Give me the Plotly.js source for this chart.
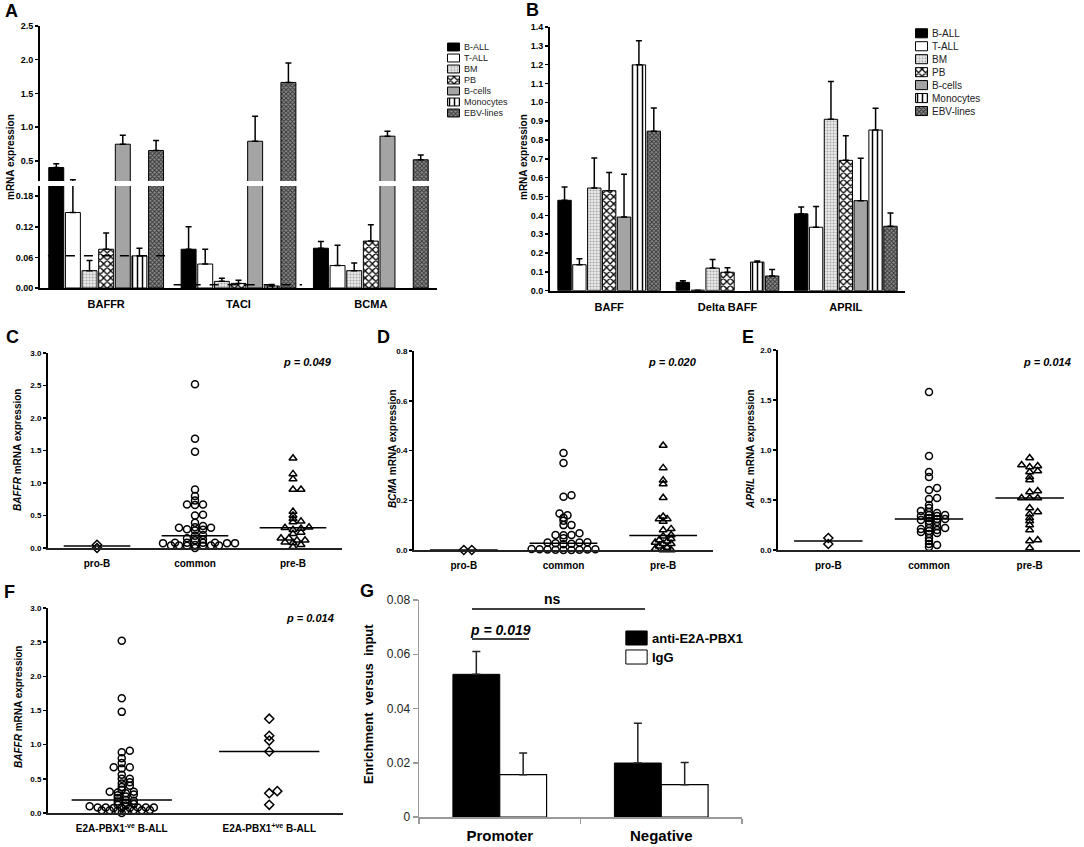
<!DOCTYPE html>
<html>
<head>
<meta charset="utf-8">
<script src="https://cdn.plot.ly/plotly-3.0.1.min.js"></script>
<style>
  body { margin: 0; background: #fff; }
  #fig { width: 1084px; height: 847px; }
</style>
</head>
<body>
<div id="fig"></div>
<script>
const W = 1084, H = 847;
const FONT = "Liberation Sans, Arial, sans-serif";

// ---- panel A / B: cell types (rows of the mean / error tables) ----
const cellTypes = ["B-ALL", "T-ALL", "BM", "PB", "B-cells", "Monocytes", "EBV-lines"];

// panel A: receptor mRNA
const receptors = ["BAFFR", "TACI", "BCMA"];
const meanA = [
  [0.40, 0.076, 0.078],
  [0.148, 0.047, 0.044],
  [0.034, 0.013, 0.034],
  [0.076, 0.009, 0.092],
  [0.746, 0.79, 0.865],
  [0.063, 0.004, null],
  [0.653, 1.663, 0.515],
];
const errA = [
  [0.055, 0.044, 0.013],
  [0.07, 0.029, 0.04],
  [0.02, 0.006, 0.015],
  [0.032, 0.006, 0.032],
  [0.133, 0.37, 0.075],
  [0.015, 0.003, 0],
  [0.147, 0.287, 0.069],
];
const cutoffA = [0.063, 0.0065];

// panel B: ligand mRNA
const ligands = ["BAFF", "Delta BAFF", "APRIL"];
const meanB = [
  [0.48, 0.044, 0.408],
  [0.138, 0.003, 0.337],
  [0.545, 0.12, 0.91],
  [0.531, 0.098, 0.692],
  [0.391, null, 0.478],
  [1.199, 0.152, 0.853],
  [0.847, 0.078, 0.342],
];
const errB = [
  [0.07, 0.009, 0.037],
  [0.032, 0, 0.11],
  [0.16, 0.045, 0.2],
  [0.096, 0.024, 0.13],
  [0.227, 0, 0.225],
  [0.128, 0.006, 0.115],
  [0.123, 0.034, 0.07],
];

// panels C-E: B-ALL subtypes
const subtypes = ["pro-B", "common", "pre-B"];
const baffrProB = [0.00, 0.05];
const baffrCommon = [2.52, 1.68, 1.48, 0.90, 0.80, 0.73, 0.67, 0.67, 0.66, 0.51, 0.50, 0.39, 0.34, 0.32,
  0.31, 0.31, 0.29, 0.28, 0.27, 0.20, 0.19, 0.15, 0.13, 0.12, 0.08, 0.08, 0.08, 0.08, 0.075, 0.075,
  0.075, 0.045, 0.04, 0.04, 0.04, 0.04, 0.035, 0.035, 0.00];
const baffrPreB = [1.38, 1.14, 1.06, 0.90, 0.90, 0.56, 0.50, 0.45, 0.41, 0.40, 0.32, 0.31, 0.30, 0.28,
  0.24, 0.22, 0.15, 0.15, 0.12, 0.12, 0.09, 0.08, 0.05, 0.02];
const baffrMedian = [0.03, 0.19, 0.31];

const bcmaProB = [0.0, 0.0];
const bcmaCommon = [0.39, 0.35, 0.22, 0.214, 0.147, 0.14, 0.13, 0.118, 0.10, 0.10, 0.067, 0.06, 0.06,
  0.059, 0.047, 0.031, 0.03, 0.03, 0.027, 0.025, 0.023, 0.004, 0.003, 0.003, 0.002, 0.002, 0.001,
  0.001, 0.0, 0.0];
const bcmaPreB = [0.42, 0.33, 0.28, 0.265, 0.21, 0.135, 0.125, 0.125, 0.115, 0.085, 0.08, 0.06, 0.055,
  0.045, 0.04, 0.035, 0.03, 0.025, 0.025, 0.015, 0.01, 0.005, 0.0, 0.0];
const bcmaMedian = [0.0, 0.027, 0.058];

const aprilProB = [0.06, 0.12];
const aprilCommon = [1.58, 0.94, 0.78, 0.73, 0.62, 0.60, 0.52, 0.51, 0.45, 0.42, 0.39, 0.38, 0.37, 0.35,
  0.35, 0.34, 0.34, 0.32, 0.31, 0.31, 0.30, 0.29, 0.28, 0.26, 0.24, 0.22, 0.22, 0.21, 0.20, 0.19, 0.18,
  0.17, 0.16, 0.12, 0.09, 0.06, 0.05, 0.03];
const aprilPreB = [0.92, 0.85, 0.84, 0.83, 0.79, 0.78, 0.73, 0.70, 0.59, 0.58, 0.52, 0.52, 0.52, 0.42,
  0.38, 0.36, 0.32, 0.29, 0.25, 0.20, 0.10, 0.09, 0.02];
const aprilMedian = [0.09, 0.31, 0.52];

// panel F: E2A-PBX1 status
const fusion = ["E2A-PBX1<sup>-ve</sup> B-ALL", "E2A-PBX1<sup>+ve</sup> B-ALL"];
const fusionNeg = [2.52, 1.68, 1.48, 0.91, 0.89, 0.80, 0.73, 0.67, 0.67, 0.65, 0.56, 0.50, 0.50, 0.45,
  0.43, 0.40, 0.38, 0.34, 0.31, 0.31, 0.30, 0.29, 0.27, 0.26, 0.24, 0.22, 0.19, 0.18, 0.17, 0.15, 0.13,
  0.12, 0.11, 0.10, 0.08, 0.08, 0.08, 0.08, 0.08, 0.075, 0.075, 0.075, 0.045, 0.04, 0.04, 0.04, 0.04,
  0.035, 0.035, 0.00];
const fusionPos = [1.38, 1.13, 1.06, 0.90, 0.32, 0.29, 0.12];
const fusionMedian = [0.19, 0.90];

// panel G: ChIP enrichment
const regions = ["Promoter", "Negative"];
const chipNames = ["anti-E2A-PBX1", "IgG"];
const chipAnti = [0.0526, 0.0199];
const chipAntiErr = [0.0084, 0.0147];
const chipIgG = [0.0156, 0.0119];
const chipIgGErr = [0.008, 0.0082];

// ---- helpers ----
const domX = (a, b) => [a / W, b / W];
const domY = (top, bot) => [1 - bot / H, 1 - top / H];
const px = (x) => x / W;
const py = (y) => 1 - y / H;

const fills = [
  { color: "#000000" },
  { color: "#ffffff" },
  { color: "#e2e2e2", pattern: { shape: ".", fgcolor: "#a8a8a8", bgcolor: "#ececec", size: 3, solidity: 0.4 } },
  { color: "#ffffff", pattern: { shape: "x", fgcolor: "#000000", bgcolor: "#ffffff", size: 5, solidity: 0.45 } },
  { color: "#a4a4a4" },
  { color: "#ffffff", pattern: { shape: "|", fgcolor: "#000000", bgcolor: "#ffffff", size: 5, solidity: 0.3 } },
  { color: "#6e6e6e", pattern: { shape: "x", fgcolor: "#333333", bgcolor: "#8c8c8c", size: 3, solidity: 0.5 } },
];

function markerFor(i) {
  const m = { color: fills[i].color, line: { color: "#000", width: 1 } };
  if (fills[i].pattern) m.pattern = fills[i].pattern;
  return m;
}

function barTrace(cats, vals, errs, i, xa, ya) {
  return {
    type: "bar", x: cats, y: vals, name: cellTypes[i], xaxis: xa, yaxis: ya,
    marker: markerFor(i),
    error_y: { type: "data", symmetric: false, array: errs, arrayminus: errs.map(() => 0),
      color: "#000", thickness: 1.5, width: 3 },
    showlegend: false, hoverinfo: "y",
  };
}

// beeswarm: each point takes the free slot nearest the centre;
// vertical gaps count triple so close rows interleave like the original
function swarm(vals, centre, yScale, xScale) {
  const d = 8, k = 3;
  const order = vals.map((_, i) => i).sort((a, b) => vals[a] - vals[b]);
  const placed = [];
  const xs = new Array(vals.length);
  for (const i of order) {
    const yp = vals[i] * yScale;
    let off = 0;
    for (let j = 0; j < 80; j++) {
      const cand = j === 0 ? 0 : (j % 2 ? 1 : -1) * Math.ceil(j / 2) * d / 2;
      if (placed.every((p) => Math.hypot(p.x - cand, (p.y - yp) * k) >= d)) { off = cand; break; }
    }
    placed.push({ x: off, y: yp });
    xs[i] = centre + off / xScale;
  }
  return xs;
}

function dotPanel(groups, medians, symbols, xa, ya, yScale, xScale) {
  const out = [];
  groups.forEach((vals, g) => {
    out.push({
      type: "scatter", mode: "markers", x: swarm(vals, g, yScale, xScale), y: vals,
      xaxis: xa, yaxis: ya, cliponaxis: false, showlegend: false, hoverinfo: "y",
      marker: { symbol: symbols[g], size: 7, color: "#000", line: { width: 1.5, color: "#000" } },
    });
    out.push({
      type: "scatter", mode: "lines", x: [g - 0.34, g + 0.34], y: [medians[g], medians[g]],
      xaxis: xa, yaxis: ya, cliponaxis: false, showlegend: false, hoverinfo: "skip",
      line: { color: "#000", width: 1.5 },
    });
  });
  return out;
}

// one key swatch per series, drawn as a short horizontal bar
function swatch(name, i, xa, ya, w) {
  return {
    type: "bar", orientation: "h", x: [1], y: [name], width: w, offset: -w / 2,
    xaxis: xa, yaxis: ya, showlegend: false, hoverinfo: "skip", marker: markerFor(i),
  };
}

// ---- traces ----
const traces = [];
cellTypes.forEach((_, i) => traces.push(barTrace(receptors, meanA[i], errA[i], i, "x", "y")));
cellTypes.forEach((_, i) => traces.push(barTrace(receptors, meanA[i], errA[i], i, "x", "y2")));
cellTypes.forEach((_, i) => traces.push(barTrace(ligands, meanB[i], errB[i], i, "x2", "y3")));

const subSymbols = ["diamond-open", "circle-open", "triangle-up-open"];
traces.push(...dotPanel([baffrProB, baffrCommon, baffrPreB], baffrMedian, subSymbols, "x3", "y4", 65, 98));
traces.push(...dotPanel([bcmaProB, bcmaCommon, bcmaPreB], bcmaMedian, subSymbols, "x4", "y5", 249, 100));
traces.push(...dotPanel([aprilProB, aprilCommon, aprilPreB], aprilMedian, subSymbols, "x5", "y6", 100, 100));
traces.push(...dotPanel([fusionNeg, fusionPos], fusionMedian, ["circle-open", "diamond-open"], "x6", "y7", 68, 147));

traces.push({
  type: "bar", x: regions, y: chipAnti, name: chipNames[0], xaxis: "x7", yaxis: "y8",
  width: 0.29, offset: -0.29, marker: { color: "#000", line: { color: "#000", width: 1 } },
  error_y: { type: "data", symmetric: false, array: chipAntiErr, arrayminus: [0, 0], color: "#222", thickness: 1.5, width: 4 },
  showlegend: false, hoverinfo: "y",
});
traces.push({
  type: "bar", x: regions, y: chipIgG, name: chipNames[1], xaxis: "x7", yaxis: "y8",
  width: 0.29, offset: 0, marker: { color: "#fff", line: { color: "#000", width: 1.2 } },
  error_y: { type: "data", symmetric: false, array: chipIgGErr, arrayminus: [0, 0], color: "#222", thickness: 1.5, width: 4 },
  showlegend: false, hoverinfo: "y",
});

// legend keys drawn as tiny bar charts so the hatch patterns match
cellTypes.forEach((n, i) => traces.push(swatch(n, i, "x8", "y9", 0.72)));
cellTypes.forEach((n, i) => traces.push(swatch(n, i, "x9", "y10", 0.7)));
chipNames.forEach((n, i) => traces.push(swatch(n, i, "x10", "y11", 0.74)));

// ---- axes ----
const tickBold = (size) => ({ family: FONT, size: size, color: "#000", weight: "bold" });
function ax(domain, extra) {
  return Object.assign({
    domain: domain, showgrid: false, zeroline: false, showline: true, linecolor: "#000",
    linewidth: 2, ticks: "outside", ticklen: 3, tickwidth: 1.5, tickcolor: "#000",
    tickfont: tickBold(9), fixedrange: true,
  }, extra);
}
const catAx = (domain, anchor, vals, text, size) => ax(domain, {
  anchor: anchor, range: [-0.5, vals.length - 0.5], tickvals: vals, ticktext: text, ticks: "",
  tickfont: tickBold(size), ticklabelstandoff: 5, linecolor: "#222",
});
const keyX = (domain, anchor) => ({ domain: domain, anchor: anchor, range: [-0.04, 1.04], visible: false, fixedrange: true });
const keyY = (domain, anchor, names, font) => ({
  domain: domain, anchor: anchor, type: "category", categoryarray: names, categoryorder: "array",
  autorange: "reversed", side: "right", showline: false, showgrid: false, zeroline: false, ticks: "",
  tickfont: font, ticklabelstandoff: 3, fixedrange: true,
});

const layout = {
  width: W, height: H, margin: { l: 0, r: 0, t: 0, b: 0 },
  paper_bgcolor: "#fff", plot_bgcolor: "rgba(0,0,0,0)",
  font: { family: FONT, color: "#000" },
  barmode: "group", bargap: 0.12, bargroupgap: 0.1, showlegend: false,

  // A
  xaxis: ax(domX(40, 437), { anchor: "y", ticks: "", tickfont: tickBold(11), ticklabelstandoff: 5 }),
  yaxis: ax(domY(186, 288), { anchor: "x", range: [0, 0.2], tickvals: [0, 0.06, 0.12, 0.18], tickformat: ".2f" }),
  yaxis2: ax(domY(26, 181), { anchor: "x", range: [0.2, 2.5], tickvals: [0.5, 1, 1.5, 2, 2.5], tickformat: ".1f" }),
  // B
  xaxis2: ax(domX(550, 905), { anchor: "y3", ticks: "", tickfont: tickBold(11), ticklabelstandoff: 5 }),
  yaxis3: ax(domY(27, 290.7), { anchor: "x2", range: [0, 1.4], dtick: 0.1, tickformat: ".1f" }),
  // C
  xaxis3: catAx(domX(48, 342), "y4", [0, 1, 2], subtypes, 10),
  yaxis4: ax(domY(353, 548), { anchor: "x3", range: [0, 3], dtick: 0.5, tickformat: ".1f", tickfont: tickBold(8) }),
  // D
  xaxis4: catAx(domX(414, 713), "y5", [0, 1, 2], subtypes, 10),
  yaxis5: ax(domY(351, 550), { anchor: "x4", range: [0, 0.8], dtick: 0.2, tickformat: ".1f", tickfont: tickBold(8) }),
  // E
  xaxis5: catAx(domX(778, 1080), "y6", [0, 1, 2], subtypes, 10),
  yaxis6: ax(domY(350, 550), { anchor: "x5", range: [0, 2], dtick: 0.5, tickformat: ".1f", tickfont: tickBold(8) }),
  // F
  xaxis6: catAx(domX(48, 343), "y7", [0, 1], fusion, 10),
  yaxis7: ax(domY(608, 813), { anchor: "x6", range: [0, 3], dtick: 0.5, tickformat: ".1f", tickfont: tickBold(8) }),
  // G
  xaxis7: ax(domX(419, 742), { anchor: "y8", range: [-0.5, 1.5], linecolor: "#9a9a9a", linewidth: 1.5,
    tickson: "boundaries", ticklen: 5, tickcolor: "#9a9a9a", tickfont: tickBold(15), ticklabelstandoff: 4 }),
  yaxis8: ax(domY(600, 817), { anchor: "x7", range: [0, 0.08], tickvals: [0, 0.02, 0.04, 0.06, 0.08],
    ticktext: ["0", "0.02", "0.04", "0.06", "0.08"], linecolor: "#9a9a9a", linewidth: 1.5, ticklen: 5,
    tickcolor: "#9a9a9a", tickfont: { family: FONT, size: 12, color: "#222" } }),
  // legend keys
  xaxis8: keyX(domX(447, 460), "y9"),
  yaxis9: keyY(domY(41.5, 118.5), "x8", cellTypes, { family: FONT, size: 9, color: "#222" }),
  xaxis9: keyX(domX(915, 928), "y10"),
  yaxis10: keyY(domY(26.8, 117.5), "x9", cellTypes, { family: FONT, size: 10, color: "#222" }),
  xaxis10: keyX(domX(625, 648), "y11"),
  yaxis11: keyY(domY(628.5, 666.5), "x10", chipNames, { family: FONT, size: 13, color: "#000", weight: "bold" }),

  shapes: [
    { type: "line", xref: "x", yref: "y", x0: -0.44, x1: 0.48, y0: cutoffA[0], y1: cutoffA[0], line: { color: "#000", width: 1.5, dash: "dash" } },
    { type: "line", xref: "x", yref: "y", x0: 0.51, x1: 1.48, y0: cutoffA[1], y1: cutoffA[1], line: { color: "#000", width: 1.5, dash: "dash" } },
    { type: "line", xref: "paper", yref: "paper", x0: px(472), x1: px(645), y0: py(609), y1: py(609), line: { color: "#000", width: 1.5 } },
    { type: "line", xref: "paper", yref: "paper", x0: px(472), x1: px(529), y0: py(639), y1: py(639), line: { color: "#000", width: 1.5 } },
  ],
  annotations: [],
};

const ann = layout.annotations;
function label(text, x, y, size, opts) {
  ann.push(Object.assign({
    text: text, x: px(x), y: py(y), xref: "paper", yref: "paper", showarrow: false,
    xanchor: "center", yanchor: "middle", font: { family: FONT, size: size, color: "#000", weight: "bold" },
  }, opts || {}));
}
// panel letters
label("A", 11, 11, 18);
label("B", 532, 10, 18);
label("C", 12, 337, 18);
label("D", 383, 337, 18);
label("E", 748, 337, 18);
label("F", 9, 592, 18);
label("G", 367, 591, 18);
// y titles
const vert = { textangle: -90 };
label("mRNA expression", 10, 157, 10, vert);
label("mRNA expression", 523, 157, 10, vert);
label("<i>BAFFR</i> mRNA expression", 17, 450, 10, vert);
label("<i>BCMA</i> mRNA expression", 392, 449, 10, vert);
label("<i>APRIL</i> mRNA expression", 750, 449, 10, vert);
label("<i>BAFFR</i> mRNA expression", 18, 707, 10, vert);
label("Enrichment  versus  input", 368, 704, 13, vert);
// p values
label("<i>p = 0.049</i>", 307, 362, 11);
label("<i>p = 0.020</i>", 672, 362, 11);
label("<i>p = 0.014</i>", 1047, 362, 11);
label("<i>p = 0.014</i>", 310, 618, 11);
label("ns", 552, 599, 14);
label("<i>p = 0.019</i>", 500, 630, 14);

Plotly.newPlot("fig", traces, layout, { displayModeBar: false, staticPlot: true });
</script>
</body>
</html>
